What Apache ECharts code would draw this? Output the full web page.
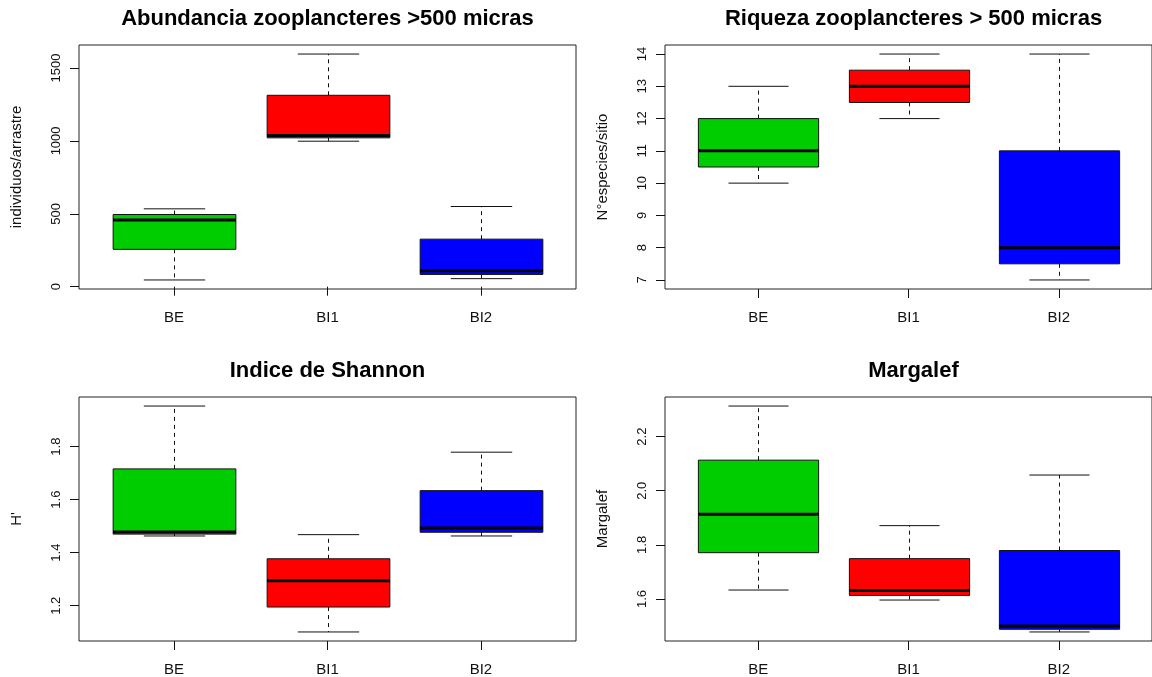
<!DOCTYPE html>
<html>
<head>
<meta charset="utf-8">
<script src="https://cdn.jsdelivr.net/npm/echarts@6/dist/echarts.min.js"></script>
<style>
html,body{margin:0;padding:0;background:#fff;}
#chart{width:1152px;height:677px;}
</style>
</head>
<body>
<div id="chart"></div>
<script>
// ---- data (per group: [min, Q1, median, Q3, max]) ----
const categories = ['BE', 'BI1', 'BI2'];

const abundancia = [
  [46, 256, 457, 495, 534],
  [998, 1021, 1037, 1313, 1596],
  [55, 84, 110, 326, 550]
];
const riqueza = [
  [10, 10.5, 11, 12, 13],
  [12, 12.5, 13, 13.5, 14],
  [7, 7.5, 8, 11, 14]
];
const shannon = [
  [1.463, 1.470, 1.478, 1.716, 1.953],
  [1.101, 1.195, 1.294, 1.377, 1.468],
  [1.463, 1.477, 1.493, 1.634, 1.779]
];
const margalef = [
  [1.633, 1.771, 1.913, 2.113, 2.313],
  [1.596, 1.613, 1.631, 1.749, 1.871],
  [1.478, 1.488, 1.500, 1.779, 2.058]
];

const ticksAbundancia = [0, 500, 1000, 1500];
const ticksRiqueza = [7, 8, 9, 10, 11, 12, 13, 14];
const ticksShannon = [1.2, 1.4, 1.6, 1.8];
const ticksMargalef = [1.6, 1.8, 2.0, 2.2];

const titles = [
  'Abundancia zooplancteres >500 micras',
  'Riqueza zooplancteres > 500 micras',
  'Indice de Shannon',
  'Margalef'
];
const yNames = ['individuos/arrastre', 'N°especies/sitio', "H'", 'Margalef'];

// ---- styles / layout ----
const boxColors = ['#00CD00', '#FF0000', '#0000FF'];
const FONT = '"Liberation Sans", Arial, sans-serif';
const panels = [
  { data: abundancia, ticks: ticksAbundancia, dec: 0, left: 79, top: 45 },
  { data: riqueza, ticks: ticksRiqueza, dec: 0, left: 665, top: 45 },
  { data: shannon, ticks: ticksShannon, dec: 1, left: 79, top: 397 },
  { data: margalef, ticks: ticksMargalef, dec: 1, left: 665, top: 397 }
];
const PW = 497, PH = 244;

function extRange(data) {
  let lo = Infinity, hi = -Infinity;
  data.forEach(d => { lo = Math.min(lo, d[0]); hi = Math.max(hi, d[4]); });
  const pad = (hi - lo) * 0.04;
  return [lo - pad, hi + pad];
}

function renderBox(params, api) {
  const x = api.value(0);
  const lo = api.value(1), q1 = api.value(2), med = api.value(3), q3 = api.value(4), hi = api.value(5);
  const ci = api.value(6);
  const halfW = api.size([0.8, 0])[0] / 2;
  const stapleHalf = halfW / 2;
  const pLo = api.coord([x, lo]), pQ1 = api.coord([x, q1]), pMed = api.coord([x, med]),
        pQ3 = api.coord([x, q3]), pHi = api.coord([x, hi]);
  const cx = Math.round(pLo[0]) + 0.5;
  const ink = '#111';
  const dashed = { stroke: ink, lineWidth: 1, lineDash: [4, 4] };
  const solid = { stroke: ink, lineWidth: 1 };
  return {
    type: 'group',
    children: [
      { type: 'line', shape: { x1: cx, y1: pQ3[1], x2: cx, y2: pHi[1] }, style: dashed },
      { type: 'line', shape: { x1: cx, y1: pQ1[1], x2: cx, y2: pLo[1] }, style: dashed },
      { type: 'line', shape: { x1: cx - stapleHalf, y1: pHi[1], x2: cx + stapleHalf, y2: pHi[1] }, style: solid },
      { type: 'line', shape: { x1: cx - stapleHalf, y1: pLo[1], x2: cx + stapleHalf, y2: pLo[1] }, style: solid },
      { type: 'rect', shape: { x: cx - halfW, y: pQ3[1], width: 2 * halfW, height: pQ1[1] - pQ3[1] },
        style: { fill: boxColors[ci], stroke: ink, lineWidth: 1 } },
      { type: 'line', shape: { x1: cx - halfW, y1: pMed[1], x2: cx + halfW, y2: pMed[1] },
        style: { stroke: '#000', lineWidth: 3 } }
    ]
  };
}

const option = {
  backgroundColor: '#fff',
  animation: false,
  title: [], grid: [], xAxis: [], yAxis: [], series: []
};

panels.forEach((p, i) => {
  const [ymin, ymax] = extRange(p.data);
  option.title.push({
    text: titles[i],
    left: p.left + PW / 2,
    top: p.top - 37,
    textAlign: 'center',
    padding: 0,
    textStyle: { fontFamily: FONT, fontSize: 22, fontWeight: 'bold', color: '#000' }
  });
  option.grid.push({
    left: p.left, top: p.top, width: PW, height: PH,
    show: true, borderColor: '#222', borderWidth: 1, backgroundColor: 'transparent'
  });
  option.xAxis.push({
    type: 'value', gridIndex: i, min: 0.38, max: 3.62,
    axisLine: { show: false },
    splitLine: { show: false },
    axisTick: { show: true, length: 9, customValues: [1, 2, 3], lineStyle: { color: '#111' } },
    axisLabel: {
      customValues: [1, 2, 3],
      formatter: v => categories[Math.round(v) - 1] || '',
      margin: 21, fontFamily: FONT, fontSize: 15, color: '#111'
    }
  });
  option.yAxis.push({
    type: 'value', gridIndex: i, min: ymin, max: ymax,
    name: yNames[i], nameLocation: 'middle', nameRotate: 90, nameGap: 55,
    nameTextStyle: { fontFamily: FONT, fontSize: 15, color: '#111' },
    axisLine: { show: false },
    splitLine: { show: false },
    axisTick: { show: true, length: 9, customValues: p.ticks, lineStyle: { color: '#111' } },
    axisLabel: {
      customValues: p.ticks, rotate: 90, margin: 16,
      formatter: v => Number(v).toFixed(p.dec),
      fontFamily: FONT, fontSize: 13, color: '#111'
    }
  });
  option.series.push({
    type: 'custom', xAxisIndex: i, yAxisIndex: i,
    renderItem: renderBox,
    encode: { x: 0, y: [1, 2, 3, 4, 5] },
    data: p.data.map((d, k) => [k + 1].concat(d).concat([k]))
  });
});

const chart = echarts.init(document.getElementById('chart'), null, { renderer: 'canvas' });
chart.setOption(option);
</script>
</body>
</html>
